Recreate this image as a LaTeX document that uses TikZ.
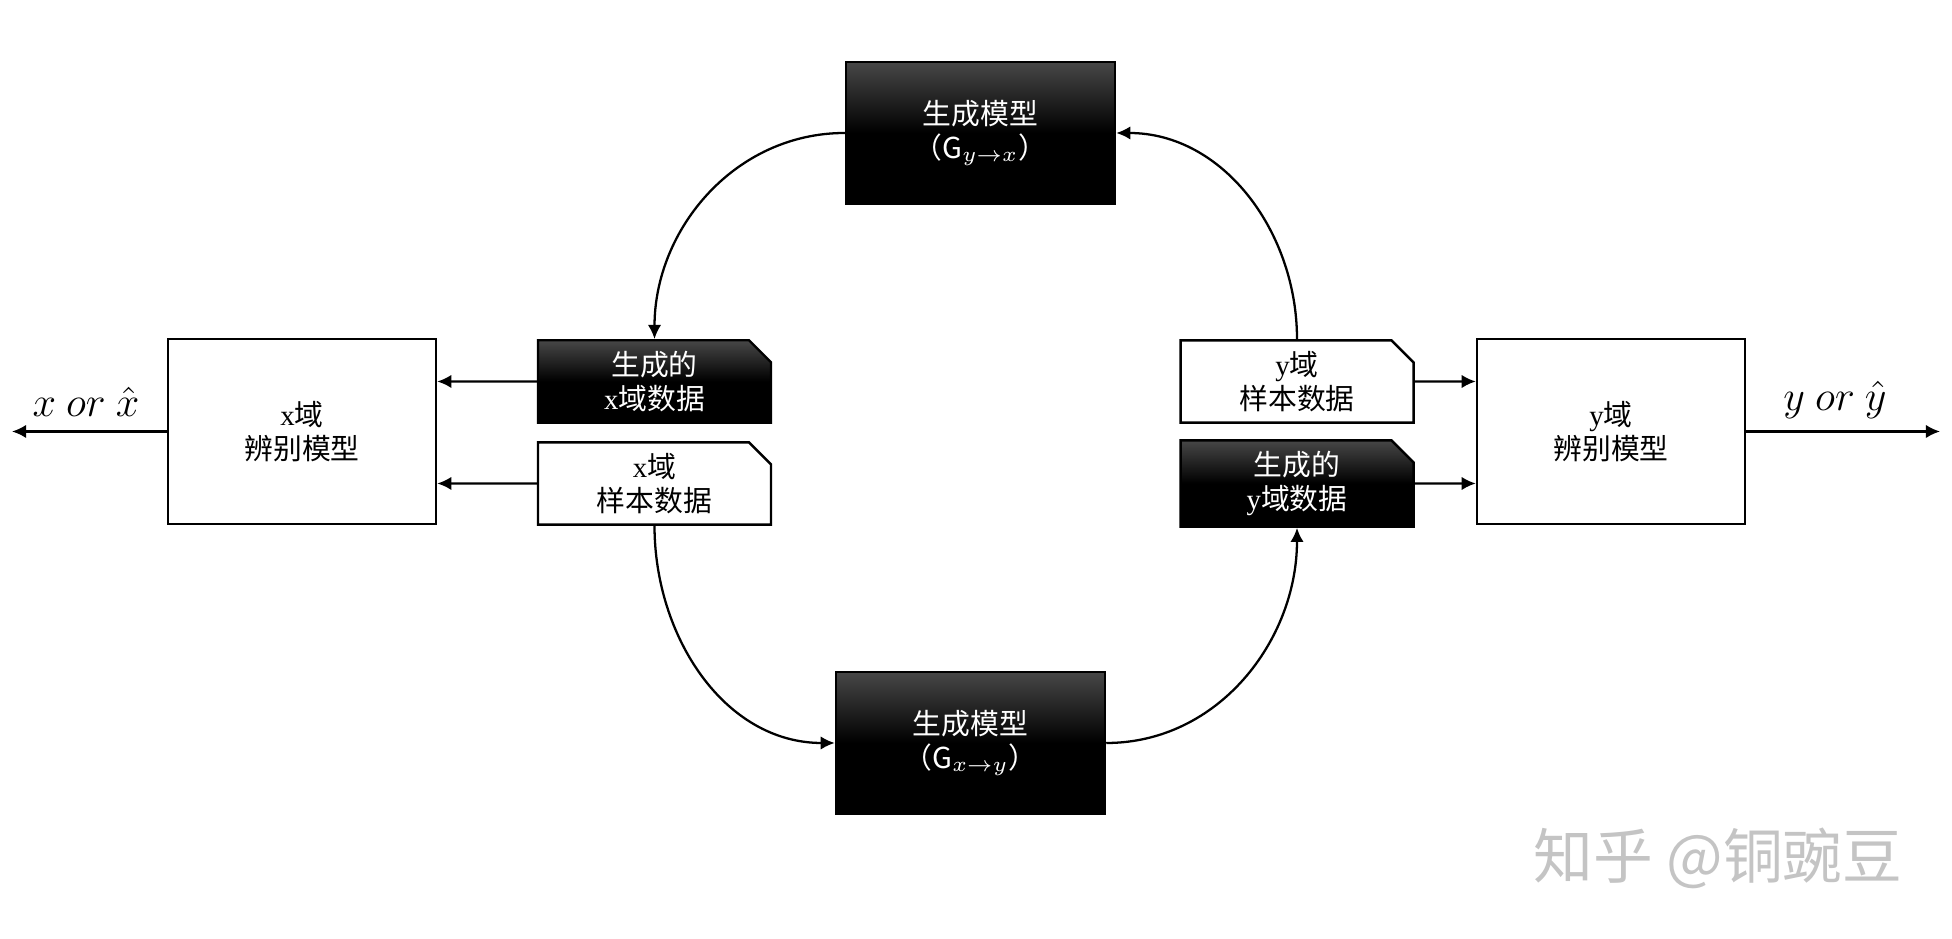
\documentclass[tikz,border=0pt]{standalone}
\usepackage{fontspec}
\setmainfont{Liberation Serif}
\newfontfamily\cjk{Noto Sans CJK SC}
\usepackage{tikz}
\usetikzlibrary{arrows.meta,positioning,shapes.misc}
\definecolor{genTop}{HTML}{474747}
\definecolor{markCol}{HTML}{C4C4C4}
\newcommand{\boxfont}{\cjk\fontsize{8.2}{9.6}\selectfont}
\tikzset{
  disc/.style={draw, line width=0.7pt, minimum width=2.68cm, minimum height=1.85cm,
               align=center, font=\boxfont, inner sep=0pt},
  gen/.style={draw, line width=0.7pt, top color=genTop, bottom color=black, middle color=black,
              minimum width=2.69cm, minimum height=1.42cm, text=white, align=center,
              font=\boxfont, inner sep=0pt},
  data/.style={chamfered rectangle, chamfered rectangle corners=north east,
               chamfered rectangle xsep=0.11cm, chamfered rectangle ysep=0.11cm,
               draw, line width=0.7pt, minimum width=2.33cm, minimum height=0.77cm,
               align=center, font=\boxfont, inner sep=0pt},
  fakedata/.style={data, top color=genTop, bottom color=black, middle color=black, text=white},
  link/.style={-{Latex[length=4pt,width=3.8pt]}, line width=0.65pt},   % every connector
  outlbl/.style={font=\fontsize{11.5}{11.5}\selectfont, inner sep=0pt},
  wmark/.style={font=\cjk\fontsize{17}{17}\selectfont, text=markCol, inner sep=0pt},
}

\begin{document}
\begin{tikzpicture}
  \useasboundingbox (0,0) rectangle (19.52,9.39);
  % discriminators
  \node[disc] (Dx) at (3.02,5.075) {\textrm{x}域\\辨别模型};
  \node[disc] (Dy) at (16.11,5.075) {\textrm{y}域\\辨别模型};
  % generators
  \node[gen] (Gyx) at (9.805,8.06) {生成模型\\（G$_{y\to x}$）};
  \node[gen] (Gxy) at (9.705,1.96) {生成模型\\（G$_{x\to y}$）};
  % data
  \node[fakedata] (fakeX) at (6.545,5.575) {生成的\\\textrm{x}域数据};
  \node[data]     (realX) at (6.545,4.555) {\textrm{x}域\\样本数据};
  \node[data]     (realY) at (12.97,5.575) {\textrm{y}域\\样本数据};
  \node[fakedata] (fakeY) at (12.97,4.555) {生成的\\\textrm{y}域数据};

  \coordinate (xout) at (0.12,5.075);
  \coordinate (yout) at (19.40,5.075);
  \node[outlbl] (xlbl) at (0.86,5.37) {$x~or~\hat{x}$};
  \node[outlbl] (ylbl) at (18.35,5.39) {$y~or~\hat{y}$};

  \draw[link] (fakeX) -- (fakeX -| Dx.east);
  \draw[link] (realX) -- (realX -| Dx.east);
  \draw[link] (realY) -- (realY -| Dy.west);
  \draw[link] (fakeY) -- (fakeY -| Dy.west);
  \draw[link] (Dx.west) -- (xout);
  \draw[link] (Dy.east) -- (yout);

  % the cycle
  \draw[link] (Gyx.west) to[out=180,in=90] (fakeX.north);
  \draw[link] (realX.south) to[out=-90,in=180] (Gxy.west);
  \draw[link] (Gxy.east) to[out=0,in=-90] (fakeY.south);
  \draw[link] (realY.north) to[out=90,in=0] (Gyx.east);

  \node[wmark] (wm) at (17.18,0.81) {知乎 @铜豌豆};
\end{tikzpicture}
\end{document}
